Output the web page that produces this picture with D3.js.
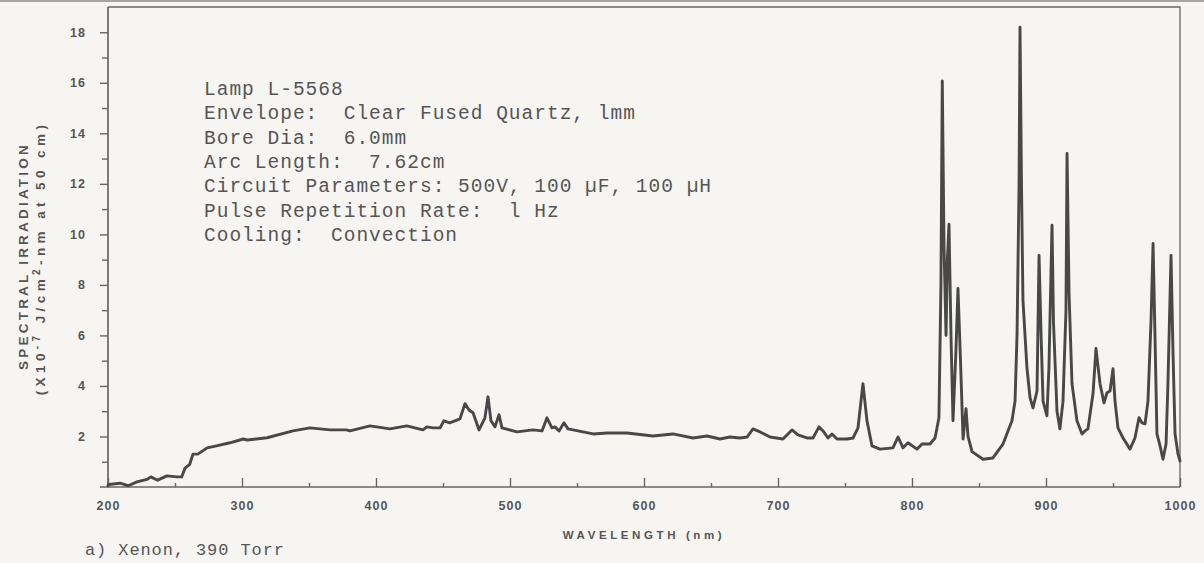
<!DOCTYPE html>
<html><head><meta charset="utf-8">
<script src="https://cdn.jsdelivr.net/npm/d3@7"></script>
<style>
html,body{margin:0;padding:0;background:#f6f5f1;}
svg{display:block;}
</style></head>
<body>
<svg id="chart" width="1204" height="563"></svg>
<script>
// ---- data ----
const wavelengths = [200,200.7,209,215,221.6,229,232,237,244,251.5,255,257.5,261,263.4,267,274,281,291,301,304,318.7,338,350.7,365.7,378,380.6,395.5,410.4,423,435,438,442.5,447.8,450.7,455,462.7,466.4,469.4,472.4,476.9,481.3,483.6,485.8,488.8,491.8,494,505.2,517,523.9,527.6,531.3,533.6,536.6,540.3,543.3,562,572.4,587.3,606.7,621.6,636.6,647,656.7,664,671.6,677,681.3,686.6,694,703.7,710.4,714.9,721.6,726.1,730.6,733.6,737.3,740.3,744,751.5,756,759.7,763.4,766.4,770.1,776.1,785.8,789.6,793.3,797,803.7,807.5,813.4,817.2,820.1,821.6,822.6,823.9,825.4,826.4,827.6,829.1,830.6,832.8,834.3,836.2,838.1,840.3,841.8,844.8,853,860.4,867.9,874.6,876.9,878.4,879.9,880.6,881.7,882.8,885.8,888.1,890.3,893.3,894.8,896.3,897.8,900.7,902.2,904.5,905.6,908.2,910.4,912.7,914.9,915.7,917.2,919.4,923.1,926.9,929.1,931.3,935.1,937.3,940.3,943.3,945.5,947.8,950,951.5,953.7,957.5,962.7,966.4,969.4,971.6,973.9,976.1,978.4,979.9,981.3,982.8,985.1,987.3,989.6,991,993.3,994.8,996.3,998.5,1000];
const irradiance = [0.05,0.1,0.15,0.05,0.2,0.3,0.4,0.27,0.44,0.4,0.4,0.75,0.9,1.3,1.3,1.55,1.63,1.75,1.9,1.86,1.95,2.22,2.34,2.26,2.26,2.22,2.42,2.3,2.42,2.26,2.38,2.34,2.34,2.62,2.54,2.7,3.3,3.05,2.94,2.26,2.74,3.57,2.62,2.38,2.86,2.34,2.18,2.26,2.22,2.74,2.34,2.38,2.22,2.54,2.3,2.1,2.14,2.14,2.02,2.1,1.94,2.02,1.9,1.98,1.94,1.98,2.3,2.18,1.98,1.9,2.26,2.06,1.94,1.94,2.38,2.22,1.94,2.1,1.9,1.9,1.94,2.34,4.09,2.62,1.63,1.5,1.55,1.98,1.55,1.75,1.5,1.7,1.7,1.94,2.74,8.0,16.07,9.5,6.0,9.0,10.4,6.0,2.62,5.4,7.86,5.0,1.9,3.1,2.0,1.4,1.1,1.15,1.7,2.62,3.4,6.07,12.0,18.2,12.0,7.4,4.7,3.53,3.13,3.8,9.17,6.07,3.4,2.82,4.72,10.36,6.5,3.0,2.3,3.4,6.98,13.2,7.66,4.09,2.62,2.1,2.22,2.3,3.7,5.48,4.09,3.33,3.73,3.8,4.68,3.4,2.34,1.94,1.5,1.94,2.74,2.54,2.5,3.4,6.6,9.64,6.07,2.1,1.63,1.1,1.7,4.09,9.17,5.28,2.1,1.31,1.03];
const yMajorTicks = [2,4,6,8,10,12,14,16,18];
const yMinorTicks = [1,3,5,7,9,11,13,15,17];
const xMajorTicks = [200,300,400,500,600,700,800,900,1000];
const xMinorTicks = [250,350,450,550,650,750,850,950];
const infoLines = [
  "Lamp L-5568",
  "Envelope:  Clear Fused Quartz, lmm",
  "Bore Dia:  6.0mm",
  "Arc Length:  7.62cm",
  "Circuit Parameters: 500V, 100 \u00b5F, 100 \u00b5H",
  "Pulse Repetition Rate:  l Hz",
  "Cooling:  Convection"
];
const xTitle = "WAVELENGTH (nm)";
const yTitle = "SPECTRAL IRRADIATION";
const caption = "a) Xenon, 390 Torr";

// ---- drawing ----
const svg = d3.select("#chart");
const ink = "#484848", axisInk = "#666", textInk = "#555";
const sans = "Liberation Sans, Arial, sans-serif";
const mono = "Liberation Mono, DejaVu Sans Mono, monospace";
const x = d3.scaleLinear().domain([200,1000]).range([108,1180]);
const y = d3.scaleLinear().domain([0,19]).range([487,7]);

// scan edge at top
svg.append("line").attr("x1",0).attr("x2",1204).attr("y1",1).attr("y2",1)
  .attr("stroke","#8a8a8a").attr("stroke-width",1.5);

// frame
svg.append("path")
  .attr("d",`M${x(200)},${y(19)}H${x(1000)}V${y(0)}`)
  .attr("fill","none").attr("stroke",axisInk).attr("stroke-width",1.3);
svg.append("line").attr("x1",x(200)).attr("x2",x(200)).attr("y1",y(19)).attr("y2",y(0))
  .attr("stroke",axisInk).attr("stroke-width",1.7);
svg.append("line").attr("x1",x(200)-8).attr("x2",x(1000)).attr("y1",y(0)).attr("y2",y(0))
  .attr("stroke",axisInk).attr("stroke-width",1.7);

// y axis
const yAx = svg.append("g").attr("transform",`translate(${x(200)},0)`)
  .call(d3.axisLeft(y).tickValues(yMajorTicks).tickSize(8).tickPadding(14).tickFormat(d3.format("d")));
const yAxMin = svg.append("g").attr("transform",`translate(${x(200)},0)`)
  .call(d3.axisLeft(y).tickValues(yMinorTicks).tickSize(6).tickFormat(""));
// x axis (ticks point up)
const xAx = svg.append("g").attr("transform",`translate(0,${y(0)})`)
  .call(d3.axisBottom(x).tickValues(xMajorTicks).tickSize(-9).tickPadding(14).tickFormat(d3.format("d")));
const xAxMin = svg.append("g").attr("transform",`translate(0,${y(0)})`)
  .call(d3.axisBottom(x).tickValues(xMinorTicks).tickSize(-4).tickFormat(""));
[yAx,yAxMin,xAx,xAxMin].forEach(g=>{
  g.select(".domain").remove();
  g.selectAll(".tick line").attr("stroke",axisInk).attr("stroke-width",1.4);
  g.selectAll("text").attr("fill",textInk).attr("font-family",sans)
    .attr("font-size",12.5).attr("font-weight","bold").attr("letter-spacing",1);
});

// spectrum
const pts = wavelengths.map((w,i)=>[w,irradiance[i]]);
svg.append("path").datum(pts)
  .attr("d",d3.line().x(d=>x(d[0])).y(d=>y(d[1])))
  .attr("fill","none").attr("stroke",ink).attr("stroke-width",2.9)
  .attr("stroke-linejoin","round").attr("stroke-linecap","round");

// y title
const yt = svg.append("g").attr("font-family",sans)
  .attr("font-weight","bold").attr("fill",textInk).attr("text-anchor","middle");
yt.append("text").attr("transform","translate(28,256) rotate(-90)")
  .attr("font-size",13.5).attr("letter-spacing",3.2).text(yTitle);
const t2 = yt.append("text").attr("transform","translate(45,258) rotate(-90)")
  .attr("font-size",13.5).attr("letter-spacing",4.4);
t2.append("tspan").text("(X10");
t2.append("tspan").attr("dy",-5).attr("font-size",10).text("-7");
t2.append("tspan").attr("dy",5).text(" J/cm");
t2.append("tspan").attr("dy",-5).attr("font-size",10).text("2");
t2.append("tspan").attr("dy",5).text("-nm at 50 cm)");

// x title
svg.append("text").attr("x",x(600)).attr("y",539).attr("text-anchor","middle")
  .attr("font-family",sans).attr("font-weight","bold")
  .attr("font-size",11.5).attr("letter-spacing",3.6).attr("fill",textInk).text(xTitle);

// info block
const info = svg.append("g").attr("font-family",mono)
  .attr("font-size",19.5).attr("letter-spacing",1.0).attr("fill","#555");
info.selectAll("text").data(infoLines).join("text")
  .attr("x",204).attr("y",(d,i)=>95+i*24.3).style("white-space","pre").text(d=>d);

// caption
svg.append("text").attr("x",85).attr("y",555)
  .attr("font-family",mono).attr("font-size",17)
  .attr("letter-spacing",0.9).attr("fill","#555").style("white-space","pre").text(caption);
</script>
</body></html>
